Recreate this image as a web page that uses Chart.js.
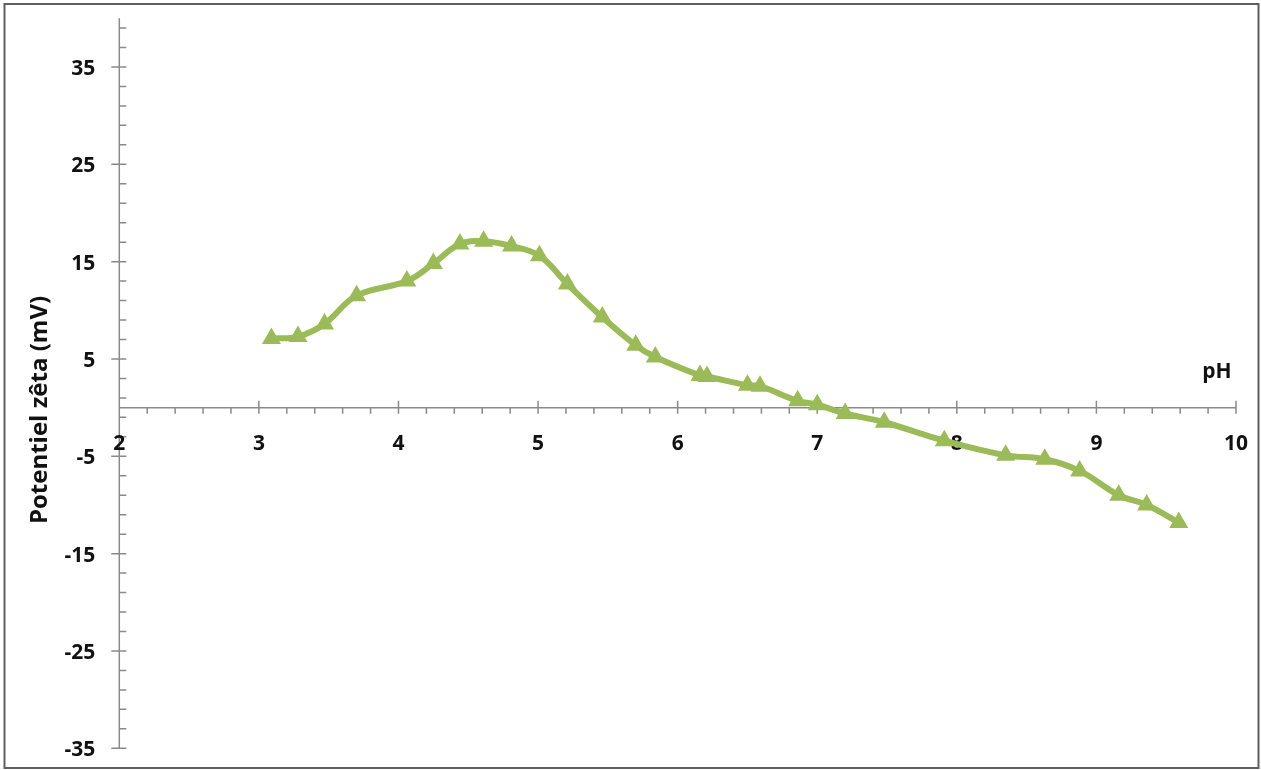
<!DOCTYPE html>
<html>
<head>
<meta charset="utf-8">
<script src="https://cdn.jsdelivr.net/npm/chart.js@4/dist/chart.umd.min.js"></script>
<style>
  html, body { margin: 0; padding: 0; background: #fff; }
  canvas { display: block; }
</style>
</head>
<body>
<canvas id="zeta_chart" width="1261" height="770"></canvas>
<script>
// pH vs zeta potential
const ph = [3.09, 3.28, 3.47, 3.70, 4.06, 4.25, 4.44, 4.61, 4.81, 5.01,
            5.21, 5.46, 5.70, 5.84, 6.16, 6.21, 6.50, 6.59, 6.86, 7.00,
            7.20, 7.48, 7.91, 8.35, 8.63, 8.88, 9.16, 9.36, 9.59];
const zeta = [7.1, 7.3, 8.6, 11.5, 13.0, 14.8, 16.8, 17.1, 16.6, 15.6,
              12.7, 9.3, 6.4, 5.2, 3.3, 3.2, 2.3, 2.2, 0.7, 0.3,
              -0.6, -1.5, -3.4, -4.9, -5.3, -6.5, -9.0, -10.0, -11.8];

const xTicks = [2, 3, 4, 5, 6, 7, 8, 9, 10];
const yTicks = [-35, -25, -15, -5, 5, 15, 25, 35];
const xTitle = "pH";
const yTitle = "Potentiel zêta (mV)";

const axisColor = "#8a8a8a";
const font = "bold 21px 'Open Sans', sans-serif";

// axes crossing at (2, 0), drawn by hand with the chart's own scales
const axesPlugin = {
    id: "crossAxes",
    beforeDraw(chart) {
        const c = chart.ctx;
        c.save();
        c.fillStyle = "#fff";
        c.fillRect(0, 0, chart.width, chart.height);
        c.strokeStyle = "#5f5f5f";
        c.lineWidth = 2;
        c.strokeRect(4.5, 4, 1254, 764);
        c.restore();
    },
    beforeDatasetsDraw(chart) {
        const c = chart.ctx;
        const x = chart.scales.x, y = chart.scales.y;
        const x0 = x.getPixelForValue(2), y0 = y.getPixelForValue(0);
        c.save();
        c.strokeStyle = axisColor;
        c.lineWidth = 1.5;
        c.beginPath();
        c.moveTo(x0, y.getPixelForValue(40));
        c.lineTo(x0, y.getPixelForValue(-35));
        c.moveTo(x0, y0);
        c.lineTo(x.getPixelForValue(10), y0);
        // y ticks: minor every 2, major every 10
        for (let v = -35; v <= 39; v += 2) {
            const py = y.getPixelForValue(v);
            const major = yTicks.includes(v);
            c.moveTo(major ? x0 - 8 : x0, py);
            c.lineTo(x0 + 7, py);
        }
        // x ticks: minor every 0.2, major every 1
        for (let i = 1; i <= 40; i++) {
            const v = 2 + i * 0.2;
            const px = x.getPixelForValue(v);
            const major = i % 5 === 0;
            c.moveTo(px, major ? y0 - 7 : y0);
            c.lineTo(px, y0 + 6);
        }
        c.stroke();

        c.fillStyle = "#111";
        c.font = font;
        c.textBaseline = "middle";
        c.textAlign = "right";
        yTicks.forEach(v => c.fillText(String(v), x0 - 24, y.getPixelForValue(v) + 2));
        c.textAlign = "center";
        xTicks.forEach(v => c.fillText(String(v), x.getPixelForValue(v), y0 + 36));

        c.textBaseline = "alphabetic";
        c.fillText(xTitle, 1217, 378);
        c.font = "bold 24px 'Open Sans', sans-serif";
        c.translate(47, 410);
        c.rotate(-Math.PI / 2);
        c.fillText(yTitle, 0, 0);
        c.restore();
    }
};

new Chart(document.getElementById("zeta_chart"), {
    type: "line",
    data: {
        datasets: [{
            data: ph.map((v, i) => ({ x: v, y: zeta[i] })),
            borderColor: "#9bbb59",
            backgroundColor: "#9bbb59",
            borderWidth: 6,
            tension: 0.4,
            pointStyle: "triangle",
            pointRadius: 11,
            pointBorderWidth: 0,
            pointHoverRadius: 11
        }]
    },
    options: {
        responsive: false,
        animation: false,
        events: [],
        layout: { padding: { left: 119.3, top: 18.3, right: 25, bottom: 21.7 } },
        plugins: { legend: { display: false }, tooltip: { enabled: false } },
        scales: {
            x: { type: "linear", min: 2, max: 10, display: false },
            y: { type: "linear", min: -35, max: 40, display: false }
        }
    },
    plugins: [axesPlugin]
});
</script>
</body>
</html>
